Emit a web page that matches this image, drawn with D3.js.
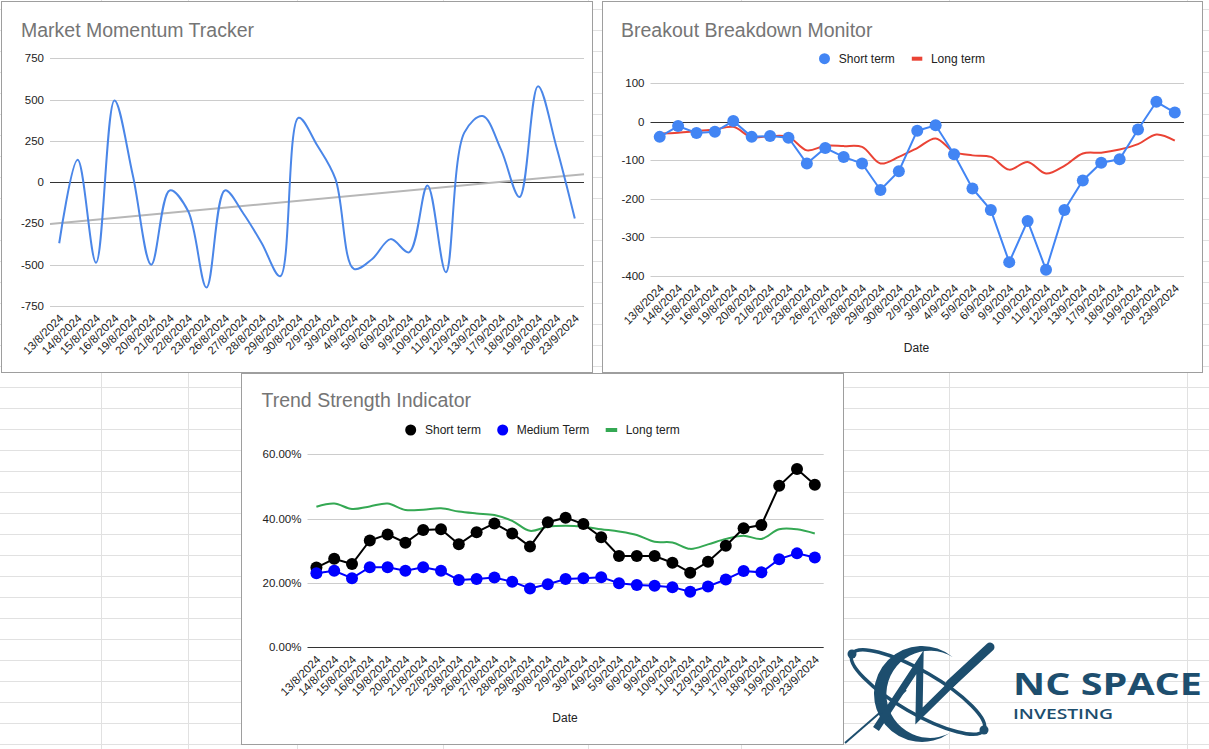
<!DOCTYPE html>
<html><head><meta charset="utf-8">
<script src="https://cdn.jsdelivr.net/npm/d3@7"></script>
<style>body{margin:0;background:#fff}svg{display:block;font-family:"Liberation Sans",Arial,sans-serif}</style>
</head><body><svg id="c" width="1209" height="749"></svg>
<script>
const dates = ["13/8/2024","14/8/2024","15/8/2024","16/8/2024","19/8/2024","20/8/2024","21/8/2024","22/8/2024","23/8/2024","26/8/2024","27/8/2024","28/8/2024","29/8/2024","30/8/2024","2/9/2024","3/9/2024","4/9/2024","5/9/2024","6/9/2024","9/9/2024","10/9/2024","11/9/2024","12/9/2024","13/9/2024","17/9/2024","18/9/2024","19/9/2024","20/9/2024","23/9/2024"];
const momentum = [-370,135,-488,495,40,-500,-50,-175,-638,-50,-190,-370,-570,390,225,20,-525,-465,-345,-425,-20,-545,300,400,195,-90,580,215,-220];
const momentumTrend = [-253,48];
const momentumTicks = [-750,-500,-250,0,250,500,750];
const breakoutShort = [-39,-11,-29,-26,2,-39,-37,-41,-108,-68,-91,-108,-177,-128,-23,-9,-84,-173,-229,-364,-257,-384,-229,-152,-106,-97,-20,52,24];
const breakoutLong = [-30,-28,-24,-20,-13,-40,-37,-39,-74,-62,-63,-65,-108,-91,-68,-43,-78,-87,-91,-124,-104,-134,-114,-82,-80,-72,-58,-33,-49];
const breakoutTicks = [-400,-300,-200,-100,0,100];
const strengthShort = [24.8,27.5,25.9,33.2,35.1,32.5,36.5,36.7,32.0,35.8,38.5,35.4,31.3,38.9,40.3,38.3,34.2,28.4,28.4,28.4,26.3,23.2,26.6,31.6,37.0,38.0,50.2,55.4,50.5];
const strengthMedium = [23.0,23.8,21.5,24.9,24.9,23.8,24.9,23.8,20.9,21.2,21.7,20.4,18.3,19.6,21.2,21.5,21.8,19.9,19.4,19.1,18.7,17.3,18.9,21.1,23.7,23.3,27.4,29.2,27.9];
const strengthLong = [43.7,44.7,43.0,43.8,44.7,42.7,42.8,43.2,42.2,41.6,41.1,39.3,36.2,37.5,37.8,37.5,36.7,36.0,34.9,32.8,32.6,30.6,32.0,33.7,34.7,33.7,36.7,36.7,35.4];
const strengthTicks = [0,20,40,60];

const svg = d3.select("#c");
svg.append("rect").attr("width",1209).attr("height",749).attr("fill","#fff");

// spreadsheet background grid
const bg = svg.append("g").attr("stroke","#e1e1e1").attr("stroke-width",1);
d3.range(-18,18).forEach(k=>{const y=Math.round(387+21*k)+0.5; bg.append("line").attr("x1",0).attr("x2",1209).attr("y1",y).attr("y2",y);});
[101,188,297,443,588,741,949,1187].forEach(x=>bg.append("line").attr("x1",x+0.5).attr("x2",x+0.5).attr("y1",0).attr("y2",749));

function chart(o){
  const g = svg.append("g");
  g.append("rect").attr("x",o.box[0]+0.5).attr("y",o.box[1]+0.5).attr("width",o.box[2]).attr("height",o.box[3]).attr("fill","#fff").attr("stroke","#9e9e9e");
  g.append("text").attr("x",o.titleX).attr("y",o.titleY).attr("font-size",19.5).attr("fill","#757575").text(o.title);
  const x = d3.scalePoint().domain(dates).range([o.px0,o.px1]).padding(0.5);
  const y = d3.scaleLinear().domain(o.yDomain).range([o.py1,o.py0]);
  o.ticks.forEach(t=>{
    const yy = Math.round(y(t))+0.5;
    g.append("line").attr("x1",o.px0).attr("x2",o.px1).attr("y1",yy).attr("y2",yy)
      .attr("stroke", t===0 ? "#333" : "#cccccc").attr("stroke-width",1);
    g.append("text").attr("x",o.px0-6).attr("y",y(t)).attr("dy","0.35em").attr("text-anchor","end")
      .attr("font-size",o.tickSize).attr("fill","#222").text(o.fmt(t));
  });
  g.selectAll(".xl").data(dates).join("text")
    .attr("transform",d=>`translate(${x(d)+5},${o.py1+13}) rotate(-45)`)
    .attr("text-anchor","end").attr("font-size",o.tickSize).attr("fill","#222").text(d=>d);
  if(o.axisTitle){ g.append("text").attr("x",o.axisTitle[0]).attr("y",o.axisTitle[1]).attr("text-anchor","middle").attr("font-size",12).attr("fill","#222").text("Date"); }
  return {g,x,y};
}

// Chart 1
{
  const {g,x,y} = chart({box:[1,1,591,371],title:"Market Momentum Tracker",titleX:21,titleY:37,px0:50,px1:584,py0:58.3,py1:306,yDomain:[-750,750],ticks:momentumTicks,fmt:d=>d,tickSize:11.5});
  g.append("line").attr("x1",50).attr("x2",584).attr("y1",y(momentumTrend[0])).attr("y2",y(momentumTrend[1])).attr("stroke","#b7b7b7").attr("stroke-width",2);
  g.append("path").attr("d",d3.line().x((d,i)=>x(dates[i])).y(d=>y(d)).curve(d3.curveCatmullRom.alpha(0.5))(momentum))
    .attr("fill","none").attr("stroke","#4a86e8").attr("stroke-width",2);
}
// Chart 2
{
  const {g,x,y} = chart({box:[602,1,600,371],title:"Breakout Breakdown Monitor",titleX:621,titleY:37,px0:650.5,px1:1184,py0:83.3,py1:276,yDomain:[-400,100],ticks:breakoutTicks,fmt:d=>d,tickSize:11.5,axisTitle:[916.5,352]});
  g.append("path").attr("d",d3.line().x((d,i)=>x(dates[i])).y(d=>y(d)).curve(d3.curveCatmullRom.alpha(0.5))(breakoutLong))
    .attr("fill","none").attr("stroke","#ea4335").attr("stroke-width",2);
  g.append("path").attr("d",d3.line().x((d,i)=>x(dates[i])).y(d=>y(d))(breakoutShort))
    .attr("fill","none").attr("stroke","#4285f4").attr("stroke-width",2);
  g.selectAll(".p").data(breakoutShort).join("circle").attr("cx",(d,i)=>x(dates[i])).attr("cy",d=>y(d)).attr("r",6).attr("fill","#4285f4");
  g.append("circle").attr("cx",824.5).attr("cy",58.7).attr("r",5.5).attr("fill","#4285f4");
  g.append("text").attr("x",838.8).attr("y",62.8).attr("font-size",12).attr("fill","#222").text("Short term");
  g.append("rect").attr("x",911.8).attr("y",56.7).attr("width",10.5).attr("height",4).attr("fill","#ea4335");
  g.append("text").attr("x",930.9).attr("y",62.8).attr("font-size",12).attr("fill","#222").text("Long term");
}
// Chart 3
{
  const {g,x,y} = chart({box:[241,373,602,371],title:"Trend Strength Indicator",titleX:261.5,titleY:407,px0:307.5,px1:823.7,py0:454.3,py1:647.3,yDomain:[0,60],ticks:strengthTicks,fmt:d=>d.toFixed(2)+"%",tickSize:11.5,axisTitle:[565,722]});
  g.append("path").attr("d",d3.line().x((d,i)=>x(dates[i])).y(d=>y(d)).curve(d3.curveCatmullRom.alpha(0.5))(strengthLong))
    .attr("fill","none").attr("stroke","#34a853").attr("stroke-width",2);
  g.append("path").attr("d",d3.line().x((d,i)=>x(dates[i])).y(d=>y(d))(strengthShort)).attr("fill","none").attr("stroke","#000").attr("stroke-width",2);
  g.selectAll(".ps").data(strengthShort).join("circle").attr("cx",(d,i)=>x(dates[i])).attr("cy",d=>y(d)).attr("r",6).attr("fill","#000");
  g.append("path").attr("d",d3.line().x((d,i)=>x(dates[i])).y(d=>y(d))(strengthMedium)).attr("fill","none").attr("stroke","#0000ff").attr("stroke-width",2);
  g.selectAll(".pm").data(strengthMedium).join("circle").attr("cx",(d,i)=>x(dates[i])).attr("cy",d=>y(d)).attr("r",6).attr("fill","#0000ff");
  g.append("circle").attr("cx",410.7).attr("cy",430).attr("r",5.5).attr("fill","#000");
  g.append("text").attr("x",425).attr("y",434.2).attr("font-size",12).attr("fill","#222").text("Short term");
  g.append("circle").attr("cx",502.7).attr("cy",430).attr("r",5.5).attr("fill","#0000ff");
  g.append("text").attr("x",516.7).attr("y",434.2).attr("font-size",12).attr("fill","#222").text("Medium Term");
  g.append("rect").attr("x",605.7).attr("y",428).attr("width",11.5).attr("height",4).attr("fill","#34a853");
  g.append("text").attr("x",625.7).attr("y",434.2).attr("font-size",12).attr("fill","#222").text("Long term");
}
// Logo
{
  const c = "#1d4e6e";
  const L = svg.append("g");
  L.append("ellipse").attr("cx",918).attr("cy",692).attr("rx",76).attr("ry",21).attr("transform","rotate(30 918 692)").attr("fill","none").attr("stroke",c).attr("stroke-width",3.5);
  L.append("circle").attr("cx",852).attr("cy",654).attr("r",4.5).attr("fill",c);
  L.append("circle").attr("cx",984).attr("cy",730).attr("r",4.5).attr("fill",c);
  // crescent "C"
  L.append("path").attr("d","M952.9,657.2 A48,48 0 1 0 949.5,733.3 A43.6,43.6 0 1 1 952.9,657.2 Z").attr("fill",c);
  L.append("polyline").attr("points","876,729 920,662 919,716 986,650").attr("fill","none").attr("stroke",c).attr("stroke-width",7).attr("stroke-linejoin","miter");
  L.append("line").attr("x1",845).attr("y1",743).attr("x2",906).attr("y2",690).attr("stroke",c).attr("stroke-width",2);
  L.append("line").attr("x1",950).attr("y1",684).attr("x2",990).attr("y2",647).attr("stroke",c).attr("stroke-width",9).attr("stroke-linecap","round");
  L.append("text").attr("x",1013).attr("y",695).attr("font-family","'Open Sans',sans-serif").attr("font-weight",700).attr("font-size",31).attr("fill",c).attr("textLength",189).attr("lengthAdjust","spacingAndGlyphs").text("NC SPACE");
  L.append("text").attr("x",1013).attr("y",718.5).attr("font-family","'Open Sans',sans-serif").attr("font-weight",600).attr("font-size",15).attr("fill",c).attr("textLength",100).attr("lengthAdjust","spacingAndGlyphs").text("INVESTING");
}
</script></body></html>
